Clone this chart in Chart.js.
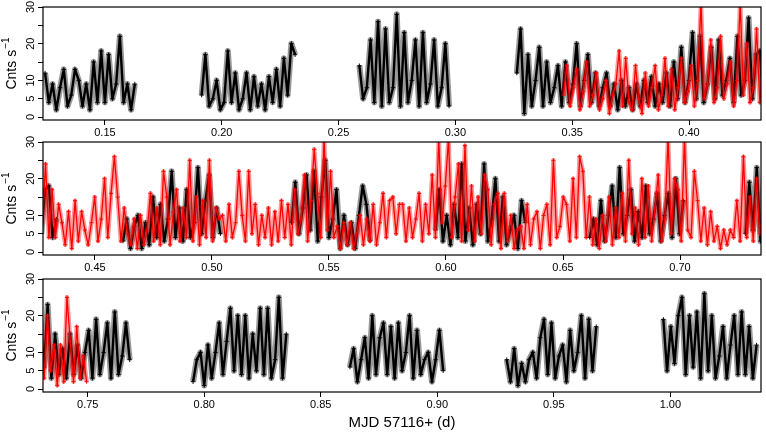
<!DOCTYPE html>
<html>
<head>
<meta charset="utf-8">
<script src="https://cdn.jsdelivr.net/npm/chart.js@4.4.1/dist/chart.umd.min.js"></script>
<style>
  html, body { margin: 0; padding: 0; background: #fff; }
  #wrap { position: relative; width: 766px; height: 438px; overflow: hidden; }
  canvas { position: absolute; left: 0; }
</style>
</head>
<body>
<div id="wrap">
  <canvas id="p1" width="766" height="140" style="top:0px"></canvas>
  <canvas id="p2" width="766" height="140" style="top:135px"></canvas>
  <canvas id="p3" width="766" height="166" style="top:272px"></canvas>
</div>
<script>
// black light curve: visibility windows, one value every blackStep days
const blackStep = 0.0016;
const blackStarts = [0.1244, 0.1914, 0.2589, 0.3263, 0.4620, 0.5340, 0.5955,
                     0.6614, 0.7280, 0.7952, 0.8625, 0.9298, 0.9970];
const segA = [12,4,9,2,8,13,3,6,13,10,3,9,2,15,4,18,4,17,5,9,22,4,9,2,9];
const segB = [6,17,3,5,10,2,4,18,4,12,2,5,12,2,11,3,9,2,11,4,13,3,16,6,20,17];
const segC = [14,5,8,21,4,26,3,24,4,8,28,3,23,4,10,21,3,23,4,9,21,3,8,20,3];
const segD = [12,24,1,17,3,10,19,3,15,4, 8,14,3,15,4,9,20,3,10,17,
              4,12,3,8,12,3,9,2,10,3, 8,2,9,3,10,4,11,3,9,4,
              12,3,15,5,19,4,10,23,5,22, 4,9,19,5,21,6,10,16,4,22,
              6,10,27,5,17,18,4,9];
const segE = [3,9,1,7,10,1,8,2,15,4,13,3,9,22,4,12,3,17,4,8,23,5,14,21,4,12,5];
const segF = [8,19,5,12,21,6,22,3,15,25,4,9,17,1,10,2,8,1,10,18,13,3];
const segG = [6,17,3,10,2,13,4,24,3,12,2,13,5,24,3,9,20,3,15,2,6,10,1,14,8];
const segH = [4,9,2,14,3,10,18,4,23,5,10,17,3,11,4,18,5,9,16,3,10,16,4,20,5,14];
const segI = [5,19,6,23,3,15,4,11,3,15,4,12,3,10,16,3,19,4,10,18,3,21,4,9,18,8];
const segJ = [2,8,10,1,12,3,10,18,4,13,22,5,20,4,20,3,15,5,22,4,22,3,8,25,3,15];
const segK = [6,11,2,8,14,3,20,4,14,18,4,17,3,18,5,10,20,3,16,4,8,10,2,8,16,5];
const segL = [8,2,11,1,7,2,8,10,3,14,19,4,18,3,9,12,2,16,5,10,20,3,19,5,17];
const segM = [19,5,17,7,20,25,4,20,6,21,3,26,5,20,3,9,17,3,12,20,4,21,4,17,3,12];
const blackSegs = [segA, segB, segC, segD, segE, segF, segG, segH, segI, segJ, segK, segL, segM];

// red light curve: one continuous run from redStart, one value every redStep days
const redStart = 0.3463;
const redStep = 0.0014;
const redRate = [
  6,14,3,8,13,2,7,15,3,6, 12,2,5,10,1,6,9,18,3,16, 4,2,14,5,1,12,3,8,14,2,
  6,16,3,13,2,8,16,4,7,14, 3,10,31,5,9,21,4,8,22,5, 9,15,3,10,31,6,20,4,8,24,
  4,17,4,13,8,2,11,1,14,3, 11,6,2,8,15,3,9,20,4,16, 26,15,3,12,5,2,9,1,10,2,
  6,16,3,12,2,22,15,2,11,17, 3,12,4,25,3,15,2,14,4,25, 3,12,9,10,3,13,4,8,22,10,
  3,22,5,13,2,10,4,12,2,11, 3,14,4,13,2,17,5,9,21,3, 14,28,16,4,31,6,22,4,7,1,
  8,2,8,1,5,10,2,9,3,13, 2,8,16,4,14,15,5,13,13,3, 12,4,9,16,3,13,5,21,4,31,
  8,18,31,4,15,24,3,29,6,18, 3,15,5,21,17,2,13,16,1,16, 3,10,1,6,7,1,13,2,9,11,
  1,10,13,2,25,4,7,15,13,3, 20,4,26,22,4,15,2,9,1,10, 3,15,2,12,4,16,3,25,5,12,
  2,20,4,18,3,12,21,3,9,31, 5,20,17,3,31,6,4,22,14,3, 12,2,11,3,7,1,6,2,6,4,
  14,3,26,4,15,3,20,5,12,1, 12,2,25,13,2,17,3,9,2
];

const yTickVals = [0, 5, 10, 15, 20, 25, 30];
const yLabeled = [0, 5, 10, 20, 30];
const p1Ticks = [0.15, 0.20, 0.25, 0.30, 0.35, 0.40];
const p2Ticks = [0.45, 0.50, 0.55, 0.60, 0.65, 0.70];
const p3Ticks = [0.75, 0.80, 0.85, 0.90, 0.95, 1.00];

// build point lists (null breaks the black line between windows)
const blackPts = [];
blackSegs.forEach((seg, k) => {
  seg.forEach((v, i) => blackPts.push({ x: blackStarts[k] + i * blackStep, y: v }));
  blackPts.push({ x: blackStarts[k] + seg.length * blackStep, y: null });
});
const redPts = redRate.map((v, i) => ({ x: redStart + i * redStep, y: v }));

const FONT = '"Liberation Sans", Arial, Helvetica, sans-serif';
Chart.defaults.font.family = FONT;
Chart.defaults.color = '#000';

// frame around the plot and the rotated y title with superscript
const framePlugin = {
  id: 'frame',
  afterDraw(chart) {
    const ctx = chart.ctx, a = chart.chartArea;
    ctx.save();
    ctx.strokeStyle = '#000';
    ctx.lineWidth = 1.2;
    ctx.strokeRect(a.left, a.top, a.right - a.left, a.bottom - a.top);
    ctx.translate(12.5, (a.top + a.bottom) / 2);
    ctx.rotate(-Math.PI / 2);
    ctx.fillStyle = '#000';
    ctx.textBaseline = 'middle';
    ctx.textAlign = 'left';
    ctx.font = '14px ' + FONT;
    const w1 = ctx.measureText('Cnts s').width;
    ctx.font = '10px ' + FONT;
    const w2 = ctx.measureText('\u22121').width;
    const x0 = -(w1 + w2 + 1) / 2;
    ctx.font = '14px ' + FONT;
    ctx.fillText('Cnts s', x0, 0);
    ctx.font = '10px ' + FONT;
    ctx.fillText('\u22121', x0 + w1 + 1, -6);
    ctx.restore();
  }
};

function makePanel(id, xMin, xMax, ticks, isLast) {
  new Chart(document.getElementById(id), {
    type: 'line',
    data: {
      datasets: [
        { data: redPts, borderColor: 'rgb(255,0,0)', borderWidth: 1.3, order: 0,
          pointStyle: 'cross', pointRadius: 2, pointBorderColor: 'rgb(255,0,0)', pointBorderWidth: 1 },
        { data: redPts, borderColor: 'rgba(255,0,0,0.4)', borderWidth: 4.5, order: 1 },
        { data: blackPts, borderColor: '#000', borderWidth: 2.4, order: 2,
          pointStyle: 'cross', pointRadius: 2.2, pointBorderColor: '#000', pointBorderWidth: 1 },
        { data: blackPts, borderColor: 'rgba(0,0,0,0.4)', borderWidth: 6, order: 3 }
      ]
    },
    options: {
      responsive: false,
      animation: false,
      events: [],
      layout: { padding: { left: 0, right: 4, top: 7, bottom: 0 } },
      elements: {
        point: { radius: 0 },
        line: { tension: 0, borderJoinStyle: 'round', fill: false }
      },
      plugins: { legend: { display: false }, tooltip: { enabled: false } },
      scales: {
        x: {
          type: 'linear',
          min: xMin,
          max: xMax,
          afterBuildTicks: s => { s.ticks = ticks.map(v => ({ value: v })); },
          afterFit: s => { s.height = isLast ? 46 : 20; s.paddingLeft = 0; s.paddingRight = 0; },
          border: { display: false },
          grid: { drawOnChartArea: false, tickLength: 5, tickColor: '#000' },
          ticks: {
            font: { size: 11 }, padding: 1, maxRotation: 0, minRotation: 0, autoSkip: false,
            callback: v => v.toFixed(2)
          },
          title: {
            display: isLast, text: 'MJD 57116+ (d)',
            font: { size: 15 }, padding: { top: 0, bottom: 6 }
          }
        },
        y: {
          min: -0.8,
          max: 30,
          afterBuildTicks: s => { s.ticks = yTickVals.map(v => ({ value: v })); },
          afterFit: s => { s.width = 43; s.paddingTop = 0; s.paddingBottom = 0; },
          border: { display: false },
          grid: { drawOnChartArea: false, tickLength: 5, tickColor: '#000' },
          ticks: {
            font: { size: 11 }, padding: 1, minRotation: 90, maxRotation: 90,
            crossAlign: 'center', autoSkip: false,
            callback: v => yLabeled.includes(v) ? String(v) : ''
          }
        }
      }
    },
    plugins: [framePlugin]
  });
}

makePanel('p1', 0.1235, 0.4308, p1Ticks, false);
makePanel('p2', 0.4278, 0.7346, p2Ticks, false);
makePanel('p3', 0.7308, 1.0389, p3Ticks, true);
</script>
</body>
</html>
